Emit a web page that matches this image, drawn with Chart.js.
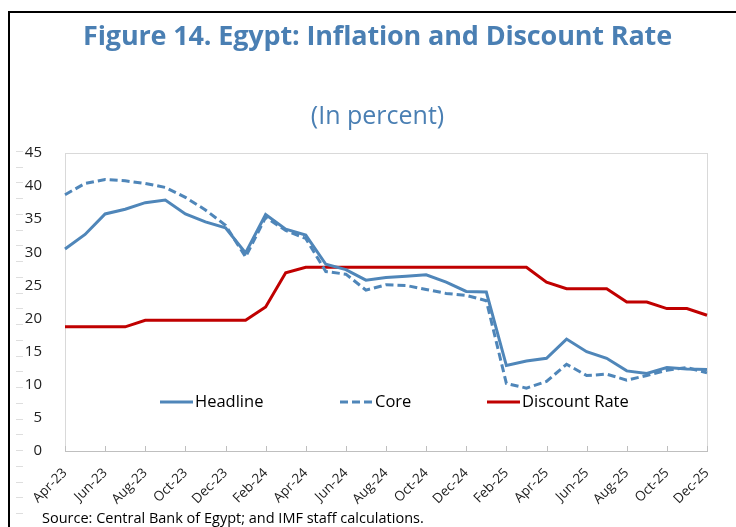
<!DOCTYPE html>
<html>
<head>
<meta charset="utf-8">
<title>Figure 14. Egypt: Inflation and Discount Rate</title>
<script src="https://cdn.jsdelivr.net/npm/chart.js@4.4.1/dist/chart.umd.min.js"></script>
<style>
  html, body { margin: 0; padding: 0; background: #fff; }
  #page {
    position: relative; width: 736px; height: 527px; overflow: hidden;
    font-family: "Open Sans", "Noto Sans", sans-serif;
  }
  #frame {
    position: absolute; left: 8px; top: 11px; right: -10px; bottom: -10px;
    border-top: 2px solid #000; border-left: 2px solid #000;
  }
  /* faint marks down the left margin */
  #margin-marks {
    position: absolute; left: 16px; top: 151px; width: 7px; height: 365px;
    background: repeating-linear-gradient(to bottom, #dedede 0 1px, transparent 1px 15.75px);
  }
  #chart-box { position: absolute; left: 0; top: 0; width: 736px; height: 527px; }
  .head { position: absolute; left: 0; width: 755px; text-align: center; color: #4A7FB3; white-space: nowrap; }
  #title { top: 16px; font-size: 27px; font-weight: 700; letter-spacing: -0.15px; }
  #subtitle { top: 97px; font-size: 25px; font-weight: 400; }
  #source { position: absolute; left: 42px; top: 508px; font-size: 14.5px; color: #000; white-space: nowrap; }
</style>
</head>
<body>
<div id="page">
  <div id="chart-box"><canvas id="chart"></canvas></div>
  <div id="frame"></div>
  <div id="margin-marks"></div>
  <div id="title" class="head">Figure 14. Egypt: Inflation and Discount Rate</div>
  <div id="subtitle" class="head">(In percent)</div>
  <div id="source">Source: Central Bank of Egypt; and IMF staff calculations.</div>
</div>
<script>
  // Monatswerte Apr-23 .. Dec-25.
  const months = [
    'Apr-23', 'May-23', 'Jun-23', 'Jul-23', 'Aug-23', 'Sep-23', 'Oct-23', 'Nov-23', 'Dec-23',
    'Jan-24', 'Feb-24', 'Mar-24', 'Apr-24', 'May-24', 'Jun-24', 'Jul-24', 'Aug-24', 'Sep-24',
    'Oct-24', 'Nov-24', 'Dec-24', 'Jan-25', 'Feb-25', 'Mar-25', 'Apr-25', 'May-25', 'Jun-25',
    'Jul-25', 'Aug-25', 'Sep-25', 'Oct-25', 'Nov-25', 'Dec-25'
  ];
  const headline = [
    30.5, 32.7, 35.8, 36.5, 37.5, 37.9, 35.8, 34.6, 33.7,
    29.9, 35.7, 33.5, 32.6, 28.2, 27.4, 25.8, 26.2, 26.4,
    26.6, 25.5, 24.1, 24.0, 12.9, 13.6, 14.0, 16.9, 15.0,
    14.0, 12.1, 11.7, 12.6, 12.4, 12.3
  ];
  const core = [
    38.7, 40.4, 41.0, 40.8, 40.4, 39.8, 38.3, 36.4, 34.1,
    29.3, 35.3, 33.3, 32.1, 27.1, 26.7, 24.3, 25.1, 25.0,
    24.4, 23.8, 23.5, 22.7, 10.2, 9.5, 10.5, 13.1, 11.4,
    11.6, 10.7, 11.4, 12.2, 12.6, 11.8
  ];
  const discountRate = [
    18.75, 18.75, 18.75, 18.75, 19.75, 19.75, 19.75, 19.75, 19.75,
    19.75, 21.75, 26.9, 27.75, 27.75, 27.75, 27.75, 27.75, 27.75,
    27.75, 27.75, 27.75, 27.75, 27.75, 27.75, 25.5, 24.5, 24.5,
    24.5, 22.5, 22.5, 21.5, 21.5, 20.5
  ];
  const yTicks = [0, 5, 10, 15, 20, 25, 30, 35, 40, 45];

  const BLUE = '#4F86B9';
  const RED = '#C00000';
  const FRAME = '#D9D9D9';
  const FONT = '"Open Sans", "Noto Sans", sans-serif';

  // Rahmen der Plotfläche + nach innen zeigende Tickstriche (wie in Excel).
  const plotFrame = {
    id: 'plotFrame',
    beforeDatasetsDraw(chart) {
      const { ctx, chartArea: a, scales: { x } } = chart;
      ctx.save();
      ctx.strokeStyle = FRAME;
      ctx.lineWidth = 1;
      ctx.strokeRect(a.left + 0.5, a.top + 0.5, a.right - a.left, a.bottom - a.top);
      ctx.strokeStyle = '#BFBFBF';
      ctx.beginPath();
      ctx.moveTo(a.left, a.bottom + 0.5);
      ctx.lineTo(a.right + 1, a.bottom + 0.5);
      months.forEach((m, i) => {
        if (i % 2) return;
        const px = Math.round(x.getPixelForValue(i)) + 0.5;
        ctx.moveTo(px, a.bottom);
        ctx.lineTo(px, a.bottom - 5);
      });
      ctx.stroke();
      ctx.restore();
    },
  };

  // Legende in der Plotfläche, eine Zeile.
  const insideLegend = {
    id: 'insideLegend',
    afterDatasetsDraw(chart) {
      const { ctx } = chart;
      const spots = [160, 340, 487];
      const y = 402;
      ctx.save();
      ctx.font = '16.5px ' + FONT;
      ctx.textBaseline = 'middle';
      ctx.fillStyle = '#000';
      chart.data.datasets.forEach((ds, i) => {
        const x0 = spots[i];
        ctx.strokeStyle = ds.borderColor;
        ctx.lineWidth = ds.borderWidth;
        ctx.setLineDash(ds.borderDash || []);
        ctx.beginPath();
        ctx.moveTo(x0, y);
        ctx.lineTo(x0 + 33, y);
        ctx.stroke();
        ctx.fillText(ds.label, x0 + 35, y);
      });
      ctx.restore();
    },
  };

  new Chart(document.getElementById('chart'), {
    type: 'line',
    data: {
      labels: months,
      datasets: [
        { label: 'Headline', data: headline, borderColor: BLUE, borderWidth: 3 },
        { label: 'Core', data: core, borderColor: BLUE, borderWidth: 3, borderDash: [8, 4] },
        { label: 'Discount Rate', data: discountRate, borderColor: RED, borderWidth: 3 },
      ],
    },
    options: {
      responsive: true,
      maintainAspectRatio: false,
      animation: false,
      elements: { point: { radius: 0 }, line: { tension: 0, borderCapStyle: 'butt' } },
      layout: { padding: { top: 153, right: 29, bottom: 16, left: 0 } },
      plugins: { legend: { display: false }, tooltip: { enabled: false } },
      scales: {
        x: {
          offset: false,
          grid: { display: false },
          border: { display: false },
          afterFit: (scale) => { scale.height = 60; },
          ticks: {
            autoSkip: false,
            minRotation: 45,
            maxRotation: 45,
            padding: 6,
            color: '#222',
            font: { family: FONT, size: 13.5 },
            callback: (value, index) => (index % 2 === 0 ? months[index] : ''),
          },
        },
        y: {
          min: 0,
          max: 45,
          grid: { display: false },
          border: { display: false },
          afterFit: (scale) => { scale.width = 65; },
          afterBuildTicks: (scale) => { scale.ticks = yTicks.map((v) => ({ value: v })); },
          ticks: {
            padding: 15,
            color: '#222',
            font: { family: FONT, size: 15 },
          },
        },
      },
    },
    plugins: [plotFrame, insideLegend],
  });
</script>
</body>
</html>
